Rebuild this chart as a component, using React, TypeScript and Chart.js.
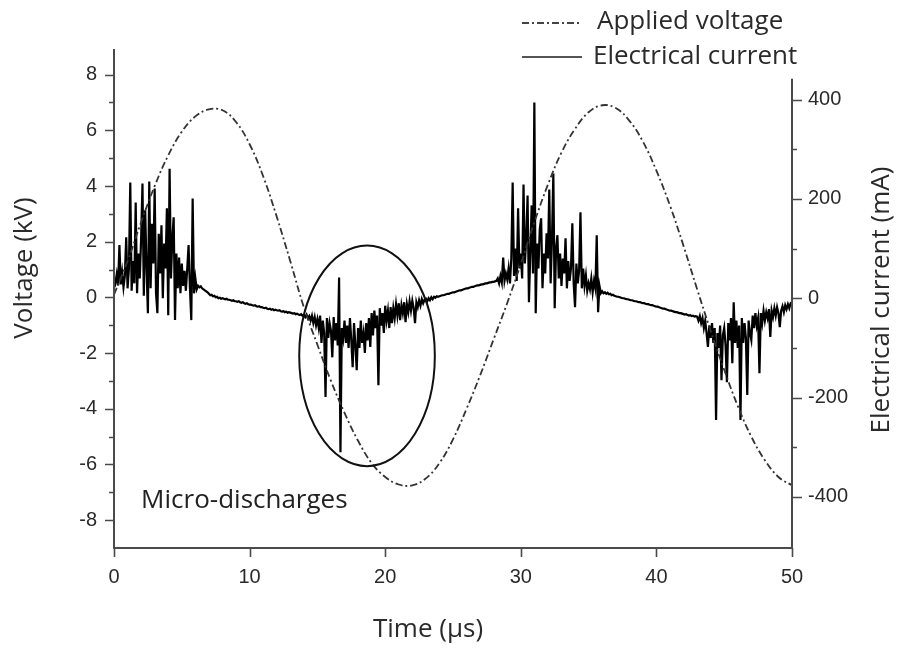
import React, { useEffect, useRef } from 'react';
import { Chart, registerables } from 'chart.js';

Chart.register(...registerables);

// ---- Axis ticks ----
const timeTicks = [0, 10, 20, 30, 40, 50];
const voltageTicks = [-8, -6, -4, -2, 0, 2, 4, 6, 8];
const voltageMinorTicks = [-7, -5, -3, -1, 1, 3, 5, 7];
const currentTicks = [-400, -200, 0, 200, 400];
const currentMinorTicks = [-300, -100, 100, 300];
const currentAxisTop = 442; // mA, where the right axis line starts

// ---- Applied voltage (kV), sampled every 1 µs ----
const voltageTimeUs = [
  0, 1, 2, 3, 4, 5, 6, 7, 8, 9, 10, 11, 12, 13, 14, 15, 16, 17, 18, 19, 20, 21, 22, 23, 24, 25,
  26, 27, 28, 29, 30, 31, 32, 33, 34, 35, 36, 37, 38, 39, 40, 41, 42, 43, 44, 45, 46, 47, 48, 49, 50,
];
const voltageKV = [
  0.1, 1.3, 2.7, 4.0, 5.1, 5.95, 6.5, 6.75, 6.72, 6.3, 5.5, 4.35, 2.9, 1.3,
  -0.35, -1.7, -3.0, -4.15, -5.15, -5.95, -6.45, -6.72, -6.75, -6.5, -5.95, -5.1, -4.0, -2.8, -1.5, -0.2,
  1.2, 2.7, 4.05, 5.2, 6.05, 6.65, 6.9, 6.8, 6.35, 5.6, 4.55, 3.3, 1.85, 0.3,
  -1.2, -2.6, -3.9, -5.0, -5.85, -6.45, -6.75,
];

// ---- Electrical current (mA), sampled every 0.1 µs from 0 to 50 µs ----
const currentStepUs = 0.1;
const currentMA = [
  38, 30, 48, 26, 107, 28, 52, 22, 45, 123,
  20, 60, 233, 15, 75, 30, 193, 10, 90, 40,
  120, 231, 5, 177, 60, -30, 235, 20, 150, 70,
  221, 10, -30, 130, 50, 147, 0, 110, 60, 181,
  -34, 261, 40, 120, 163, -44, 90, 20, 82, 10,
  70, 25, 55, 15, 60, 107, 20, -44, 201, 10,
  40, 18, 25, 22, 24, 20, 18, 16, 14, 12,
  9, 6, 7, 4, 5, 2, 3, 0, 1, -1,
  0, -1, -2, -1, -3, -3, -4, -5, -4, -6,
  -6, -7, -6, -8, -9, -8, -10, -11, -10, -12,
  -13, -13, -14, -15, -14, -16, -17, -16, -18, -18,
  -19, -20, -19, -21, -22, -21, -23, -22, -24, -23,
  -24, -25, -24, -26, -27, -26, -28, -27, -29, -28,
  -29, -30, -31, -30, -32, -31, -33, -34, -32, -35,
  -34, -38, -33, -40, -36, -45, -35, -50, -38, -55,
  -42, -60, -35, -90, -45, -70, -199, -40, -80, -50,
  -65, -119, -38, -85, -50, -95, 42, -310, -60, -80,
  -45, -90, -55, -100, -40, -85, -139, -50, -95, -145,
  -60, -100, -45, -90, -70, -110, -50, -85, -40, -98,
  -30, -75, -25, -60, -35, -175, -20, -55, -30, -70,
  -15, -45, -25, -60, -18, -50, -20, -40, -12, -35,
  -10, -44, -14, -30, -8, -48, -12, -28, -6, -25,
  -5, -20, -50, -8, -18, -4, -15, -2, -10, -3,
  -1, -6, 0, -4, 2, -2, 3, 1, 4, 3,
  4, 5, 6, 6, 7, 8, 9, 9, 10, 11,
  12, 12, 13, 14, 15, 16, 16, 17, 18, 19,
  20, 20, 21, 22, 23, 23, 24, 25, 26, 26,
  27, 28, 28, 29, 30, 30, 31, 32, 32, 33,
  33, 34, 35, 40, 30, 45, 32, 82, 35, 50,
  38, 60, 30, 80, 233, 45, 100, 35, 181, 60,
  90, 40, 229, 70, 120, 207, -8, 90, 187, 50,
  394, -30, 110, 60, 140, 161, 20, 90, 50, 131,
  80, 219, 30, 120, 251, -20, 100, 127, 40, 90,
  25, 80, 50, 121, 20, 75, 35, 60, 151, 30,
  -18, 70, 30, 55, 173, 20, 60, 25, 46, 15,
  30, 18, 40, 12, 35, 20, 127, -28, 25, 10,
  14, 10, 12, 9, 11, 8, 9, 6, 7, 5,
  4, 3, 3, 2, 1, 0, 0, -1, -2, -2,
  -3, -4, -4, -5, -6, -6, -7, -8, -8, -9,
  -10, -10, -11, -12, -12, -13, -14, -14, -15, -16,
  -17, -17, -18, -19, -20, -21, -21, -22, -23, -24,
  -25, -25, -26, -27, -28, -28, -29, -30, -30, -31,
  -32, -33, -32, -34, -35, -34, -36, -35, -37, -36,
  -37, -45, -36, -50, -40, -60, -45, -70, -98, -55,
  -80, -50, -90, -60, -245, -70, -100, -55, -165, -75,
  -60, -95, -169, -50, -85, -40, -131, -8, -90, -45,
  -100, -55, -245, -40, -90, -50, -80, -195, -45, -70,
  -84, -35, -60, -30, -55, -40, -151, -30, -50, -25,
  -45, -28, -40, -22, -78, -25, -38, -20, -35, -18,
  -30, -58, -25, -16, -28, -14, -22, -12, -20, -10,
  -8,
];

// ---- Annotation (data coordinates) ----
const ellipseCenter = { t: 18.66, kv: -2.1 };
const ellipseRadius = { t: 5.0, kv: 3.96 };
const annotationLabel = { text: 'Micro-discharges', t: 2.0, kv: -7.28 };

const AXIS_COLOR = '#4a4a4a';
const TEXT_COLOR = '#2a2a2a';
const TICK_FAMILY = '"Liberation Sans", Arial, sans-serif';
const TICK_SIZE = 20;
const LABEL_FONT = '26px "Open Sans", sans-serif';
const DASH = [7, 3, 2, 3];

const decorPlugin = {
  id: 'decor',
  afterDraw(chart: any) {
    const { ctx, chartArea: a, scales } = chart;
    const xs = scales.x;
    const ys = scales.y;
    const y1 = scales.y1;
    ctx.save();

    // axis lines
    ctx.strokeStyle = AXIS_COLOR;
    ctx.lineWidth = 2;
    ctx.setLineDash([]);
    ctx.beginPath();
    ctx.moveTo(a.left, a.top);
    ctx.lineTo(a.left, a.bottom);
    ctx.moveTo(a.left - 1, a.bottom);
    ctx.lineTo(a.right + 1, a.bottom);
    ctx.moveTo(a.right, y1.getPixelForValue(currentAxisTop));
    ctx.lineTo(a.right, a.bottom);
    ctx.stroke();

    // tick marks
    ctx.lineWidth = 1.6;
    ctx.beginPath();
    voltageTicks.forEach((v) => {
      const p = Math.round(ys.getPixelForValue(v)) + 0.5;
      ctx.moveTo(a.left, p);
      ctx.lineTo(a.left - 9, p);
    });
    voltageMinorTicks.forEach((v) => {
      const p = Math.round(ys.getPixelForValue(v)) + 0.5;
      ctx.moveTo(a.left, p);
      ctx.lineTo(a.left - 5, p);
    });
    currentTicks.forEach((v) => {
      const p = Math.round(y1.getPixelForValue(v)) + 0.5;
      ctx.moveTo(a.right, p);
      ctx.lineTo(a.right + 10, p);
    });
    currentMinorTicks.forEach((v) => {
      const p = Math.round(y1.getPixelForValue(v)) + 0.5;
      ctx.moveTo(a.right, p);
      ctx.lineTo(a.right + 5, p);
    });
    timeTicks.forEach((v) => {
      const p = Math.round(xs.getPixelForValue(v)) + 0.5;
      ctx.moveTo(p, a.bottom);
      ctx.lineTo(p, a.bottom + 9);
    });
    ctx.stroke();

    // axis titles
    ctx.fillStyle = TEXT_COLOR;
    ctx.font = LABEL_FONT;
    ctx.textAlign = 'center';
    ctx.textBaseline = 'middle';
    ctx.fillText('Time (µs)', 428, 630);
    ctx.save();
    ctx.translate(25, 268);
    ctx.rotate(-Math.PI / 2);
    ctx.fillText('Voltage (kV)', 0, 0);
    ctx.restore();
    ctx.save();
    ctx.translate(882, 300);
    ctx.rotate(-Math.PI / 2);
    ctx.fillText('Electrical current (mA)', 0, 0);
    ctx.restore();

    // legend
    ctx.strokeStyle = '#444';
    ctx.lineWidth = 2;
    ctx.setLineDash(DASH);
    ctx.beginPath();
    ctx.moveTo(522, 23);
    ctx.lineTo(580, 23);
    ctx.stroke();
    ctx.setLineDash([]);
    ctx.strokeStyle = '#555';
    ctx.beginPath();
    ctx.moveTo(522, 57);
    ctx.lineTo(582, 57);
    ctx.stroke();
    ctx.textAlign = 'left';
    ctx.fillStyle = TEXT_COLOR;
    ctx.fillText('Applied voltage', 597, 22);
    ctx.fillText('Electrical current', 593, 57);

    // annotation ellipse + label
    const cx = xs.getPixelForValue(ellipseCenter.t);
    const cy = ys.getPixelForValue(ellipseCenter.kv);
    const rx = Math.abs(xs.getPixelForValue(ellipseCenter.t + ellipseRadius.t) - cx);
    const ry = Math.abs(ys.getPixelForValue(ellipseCenter.kv + ellipseRadius.kv) - cy);
    ctx.strokeStyle = '#111';
    ctx.lineWidth = 2;
    ctx.beginPath();
    ctx.ellipse(cx, cy, rx, ry, 0, 0, Math.PI * 2);
    ctx.stroke();
    ctx.fillStyle = '#222';
    ctx.fillText(
      annotationLabel.text,
      xs.getPixelForValue(annotationLabel.t),
      ys.getPixelForValue(annotationLabel.kv)
    );

    ctx.restore();
  },
};

export default function App() {
  const canvasRef = useRef<HTMLCanvasElement | null>(null);

  useEffect(() => {
    document.body.style.margin = '0';
    const canvas = canvasRef.current;
    if (!canvas) return;
    const tickFont = { family: TICK_FAMILY, size: TICK_SIZE };
    const chart = new Chart(canvas, {
      type: 'line',
      data: {
        datasets: [
          {
            label: 'Applied voltage',
            data: voltageTimeUs.map((t, i) => ({ x: t, y: voltageKV[i] })),
            yAxisID: 'y',
            borderColor: '#333333',
            borderWidth: 1.8,
            borderDash: DASH,
            pointRadius: 0,
            tension: 0.4,
            fill: false,
            order: 0,
          },
          {
            label: 'Electrical current',
            data: currentMA.map((v, i) => ({ x: +(i * currentStepUs).toFixed(1), y: v })),
            yAxisID: 'y1',
            borderColor: '#000000',
            borderWidth: 2.2,
            borderJoinStyle: 'miter',
            pointRadius: 0,
            tension: 0,
            fill: false,
            order: 1,
          },
        ],
      },
      options: {
        responsive: false,
        animation: false,
        devicePixelRatio: 1,
        layout: { padding: { top: 49, left: 0, right: 0, bottom: 0 } },
        plugins: { legend: { display: false }, tooltip: { enabled: false } },
        scales: {
          x: {
            type: 'linear',
            min: 0,
            max: 50,
            afterBuildTicks: (s: any) => {
              s.ticks = timeTicks.map((v) => ({ value: v }));
            },
            afterFit: (s: any) => {
              s.height = 101;
            },
            grid: { display: false, drawTicks: false },
            border: { display: false },
            ticks: { padding: 17, color: TEXT_COLOR, font: tickFont, maxRotation: 0, autoSkip: false },
          },
          y: {
            type: 'linear',
            position: 'left',
            min: -9,
            max: 8.92,
            afterBuildTicks: (s: any) => {
              s.ticks = voltageTicks.map((v) => ({ value: v }));
            },
            afterFit: (s: any) => {
              s.width = 114;
            },
            grid: { display: false, drawTicks: false },
            border: { display: false },
            ticks: { padding: 17, color: TEXT_COLOR, font: tickFont, autoSkip: false },
          },
          y1: {
            type: 'linear',
            position: 'right',
            min: -503,
            max: 502,
            afterBuildTicks: (s: any) => {
              s.ticks = currentTicks.map((v) => ({ value: v }));
            },
            afterFit: (s: any) => {
              s.width = 107;
            },
            grid: { display: false, drawTicks: false },
            border: { display: false },
            ticks: { padding: 16, color: TEXT_COLOR, font: tickFont, autoSkip: false },
          },
        },
      },
      plugins: [decorPlugin],
    });
    return () => chart.destroy();
  }, []);

  return (
    <div style={{ position: 'absolute', left: 0, top: 0, width: 899, height: 649, background: '#fff' }}>
      <canvas ref={canvasRef} width={899} height={649} style={{ width: 899, height: 649, display: 'block' }} />
    </div>
  );
}
